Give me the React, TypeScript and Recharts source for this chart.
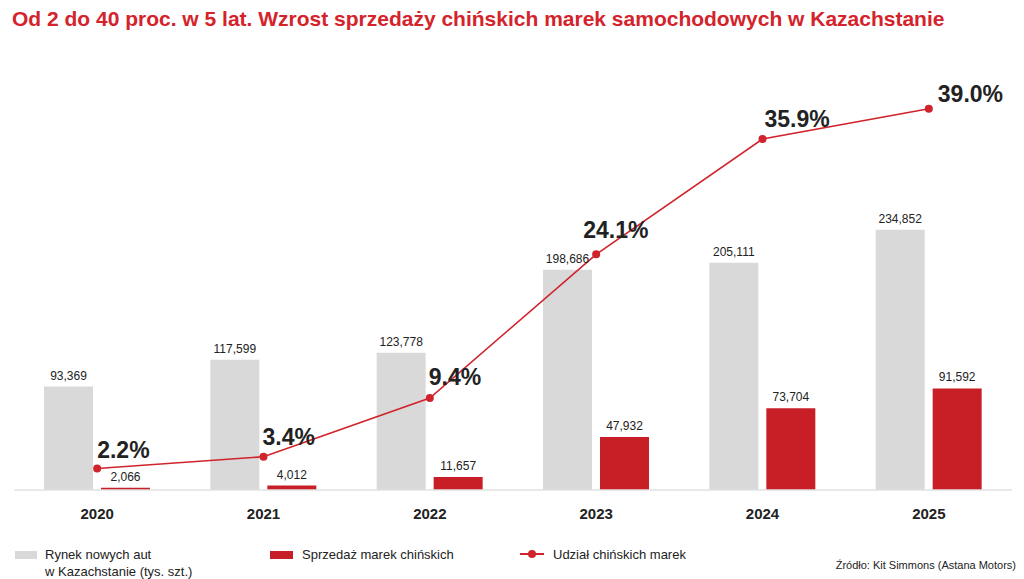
import { ComposedChart, Bar, Line, XAxis, YAxis, LabelList } from 'recharts';

const years = ['2020', '2021', '2022', '2023', '2024', '2025'];
const marketTotal = [93369, 117599, 123778, 198686, 205111, 234852];
const chineseSales = [2066, 4012, 11657, 47932, 73704, 91592];
const chineseShare = [2.2, 3.4, 9.4, 24.1, 35.9, 39.0];

const data = years.map((year, i) => ({
  year,
  total: marketTotal[i],
  chinese: chineseSales[i],
  share: chineseShare[i],
}));

const RED = '#c81f27';
const GREY = '#d9d9d9';
const SANS = '"Liberation Sans", Arial, sans-serif';

// nudges for the big percent labels, so they sit like in the original
const shareDx = [0, -1, -1, -13, 2, 9];
const shareDy = [-10, -12, -13, -16, -12, -7];

const fmt = (v: number) => v.toLocaleString('en-US');

const ShareLabel = (props: any) => {
  const { x, y, value, index } = props;
  return (
    <text
      x={x + shareDx[index]}
      y={y + shareDy[index]}
      fill="#222"
      fontSize={23}
      fontWeight={700}
      fontFamily={SANS}
      textAnchor="start"
    >
      {Number(value).toFixed(1)}%
    </text>
  );
};

export default function App() {
  return (
    <div style={{ position: 'absolute', left: 0, top: 0, width: 1024, height: 579, background: '#fff', fontFamily: SANS }}>
      <div style={{ position: 'absolute', left: 12, top: 7, color: '#d4232b', fontSize: 21, fontWeight: 700, whiteSpace: 'nowrap' }}>
        Od 2 do 40 proc. w 5 lat. Wzrost sprzedaży chińskich marek samochodowych w Kazachstanie
      </div>

      <ComposedChart
        width={1024}
        height={579}
        data={data}
        margin={{ top: 50, right: 12, bottom: 59, left: 14 }}
        barSize={49}
        barGap={8}
        style={{ position: 'absolute', left: 0, top: 0 }}
      >
        <XAxis
          dataKey="year"
          height={30}
          axisLine={{ stroke: '#e2e2e2', strokeWidth: 1.5 }}
          tickLine={false}
          tick={{ fill: '#222', fontSize: 15, fontWeight: 700, fontFamily: SANS, dy: 10 }}
        />
        <YAxis yAxisId="cars" hide domain={[0, 397000]} />
        <YAxis yAxisId="share" hide orientation="right" domain={[0, 45]} />
        <Bar yAxisId="cars" dataKey="total" fill={GREY} isAnimationActive={false}>
          <LabelList dataKey="total" position="top" offset={7} formatter={(v: any) => fmt(Number(v))} fill="#222" fontSize={12} fontFamily={SANS} />
        </Bar>
        <Bar yAxisId="cars" dataKey="chinese" fill={RED} isAnimationActive={false}>
          <LabelList dataKey="chinese" position="top" offset={7} formatter={(v: any) => fmt(Number(v))} fill="#222" fontSize={12} fontFamily={SANS} />
        </Bar>
        <Line
          yAxisId="share"
          dataKey="share"
          stroke="#d0232b"
          strokeWidth={1.6}
          dot={{ r: 4, fill: '#d0232b', stroke: '#d0232b', strokeWidth: 0 }}
          isAnimationActive={false}
        >
          <LabelList dataKey="share" content={ShareLabel} />
        </Line>
      </ComposedChart>

      <div style={{ position: 'absolute', left: 15, top: 551, width: 22, height: 8, background: GREY }} />
      <div style={{ position: 'absolute', left: 45, top: 546, fontSize: 13, lineHeight: '17px', color: '#222' }}>
        Rynek nowych aut
        <br />w Kazachstanie (tys. szt.)
      </div>

      <div style={{ position: 'absolute', left: 270, top: 551, width: 23, height: 8, background: RED }} />
      <div style={{ position: 'absolute', left: 302, top: 546, fontSize: 13, lineHeight: '17px', color: '#222' }}>
        Sprzedaż marek chińskich
      </div>

      <svg style={{ position: 'absolute', left: 519, top: 547 }} width={26} height={14}>
        <line x1={1} y1={7} x2={25} y2={7} stroke="#d0232b" strokeWidth={2} />
        <circle cx={13} cy={7} r={4} fill="#d0232b" />
      </svg>
      <div style={{ position: 'absolute', left: 553, top: 546, fontSize: 13, lineHeight: '17px', color: '#222' }}>
        Udział chińskich marek
      </div>

      <div style={{ position: 'absolute', right: 8, top: 559, fontSize: 11, color: '#222', whiteSpace: 'nowrap' }}>
        Źródło: Kit Simmons (Astana Motors)
      </div>
    </div>
  );
}
